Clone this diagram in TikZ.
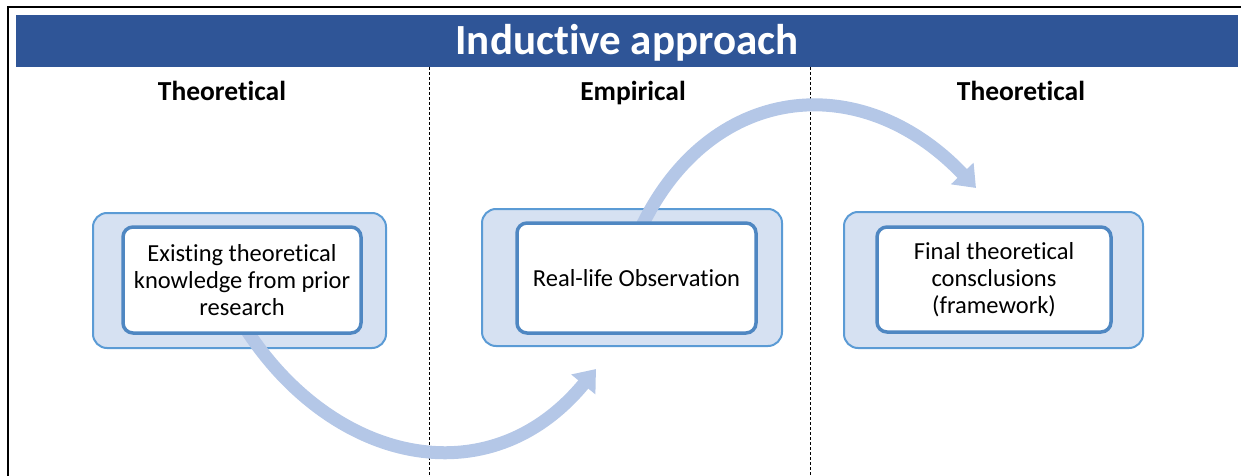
\documentclass[tikz,border=0pt]{standalone}
\usepackage{fontspec}
\setmainfont{Carlito}[Ligatures=NoCommon]
\usetikzlibrary{arrows.meta}
\definecolor{titleblue}{HTML}{2F5597}
\definecolor{outerfill}{HTML}{D6E1F2}
\definecolor{outerline}{HTML}{5B9BD5}
\definecolor{innerline}{HTML}{4F87C2}
\definecolor{arrowblue}{HTML}{B4C7E7}
\tikzset{
  bar/.style={fill=titleblue, draw=none, minimum width=1222pt, minimum height=52pt, inner sep=0pt},
  titletext/.style={text=white, font=\bfseries\fontsize{43}{50}\selectfont, inner sep=0pt, anchor=base},
  heading/.style={font=\bfseries\fontsize{27.5}{32}\selectfont, inner sep=0pt, anchor=base},
  outerbox/.style={fill=outerfill, draw=outerline, line width=2pt, rounded corners=14pt, inner sep=0pt},
  innerbox/.style={fill=white, draw=innerline, line width=3.5pt, rounded corners=10pt, inner sep=0pt,
    align=center, font=\fontsize{24.5}{27}\selectfont},
  divider/.style={draw=black, line width=0.8pt, dash pattern=on 3pt off 2pt},
  frame/.style={draw=black, line width=1.5pt},
  bigarrow/.style={draw=arrowblue, line width=13pt, -{Triangle[width=30pt,length=20pt]}},
}
\begin{document}
\begin{tikzpicture}[x=1pt,y=-1pt]
\useasboundingbox (0,0) rectangle (1241,476);
% frame
\draw[frame] (1241,7) -- (8,7) -- (8,476);
% title
\node[bar] (bar) at (627,41) {};
\node[titletext] (title) at (627,55) {Inductive approach};
% dividers
\draw[divider] (429,67) -- (429,476);
\draw[divider] (810,67) -- (810,476);
% headings
\node[heading] (h1) at (222,101) {Theoretical};
\node[heading] (h2) at (633,101) {Empirical};
\node[heading] (h3) at (1021,101) {Theoretical};
% outer boxes
\node[outerbox, minimum width=293pt, minimum height=135pt] (o1) at (239.5,280.5) {};
\node[outerbox, minimum width=300pt, minimum height=137pt] (o2) at (632,277.5) {};
\node[outerbox, minimum width=299pt, minimum height=136pt] (o3) at (993.5,280) {};
% arrow end points
\coordinate (a1s) at (244,326);
\coordinate (a1e) at (596,369);
\coordinate (a2s) at (640,230);
\coordinate (a2e) at (976,188);
\draw[bigarrow] (a1s) .. controls (330,462) and (488,500) .. (a1e);
\draw[bigarrow] (a2s) .. controls (708,84) and (860,66) .. (a2e);
% inner boxes
\node[innerbox, minimum width=238pt, minimum height=106pt] (i1) at (242,280) {Existing theoretical\\knowledge from prior\\research};
\node[innerbox, minimum width=239pt, minimum height=110pt] (i2) at (636.5,278) {Real-life Observation};
\node[innerbox, minimum width=234pt, minimum height=105pt] (i3) at (994,279.5) {Final theoretical\\consclusions\\(framework)};
\end{tikzpicture}
\end{document}
